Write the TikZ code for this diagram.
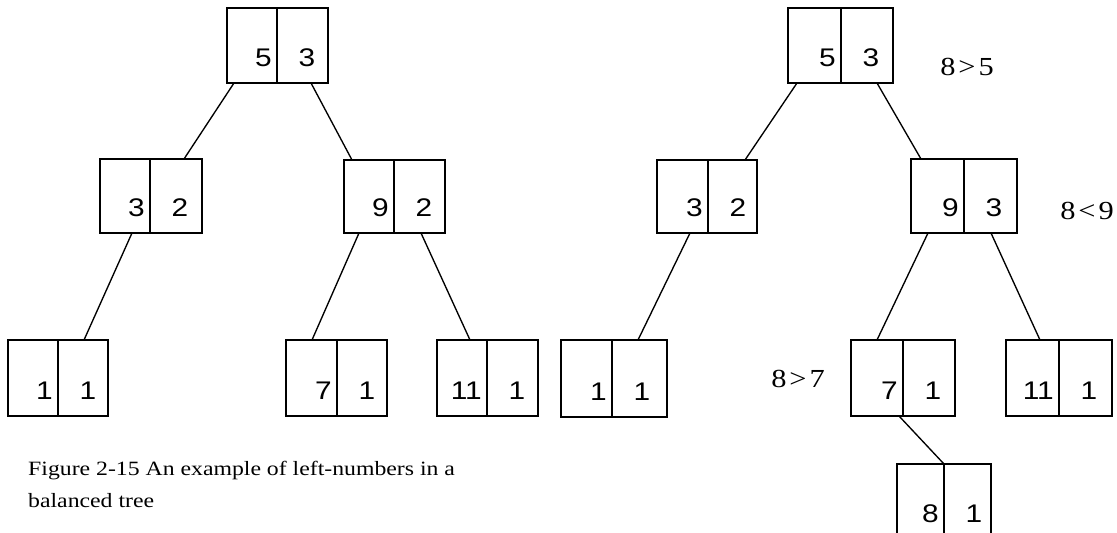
\documentclass[tikz,border=0pt]{standalone}
\usepackage{fontspec}
\setmainfont{Liberation Serif}
\newfontfamily\numfont{Liberation Sans}
\usetikzlibrary{fit}
\newcommand\sx[1]{\scalebox{1.17}[1]{#1}}
% #1 name, #2 left, #3 top, #4 right, #5 bottom, #6 divider x, #7 left number, #8 right number
\newcommand\tbox[8]{%
  \node[cellbox, fit={(#2,#3) (#4,#5)}] (#1) {};
  \draw[edge] (#6,#3) -- (#6,#5);
  \node[num, anchor=base east] (#1-l) at (#6-5,#5-17) {\sx{#7}};
  \node[num, anchor=base] (#1-r) at (#6+30,#5-17) {\sx{#8}};
}
\begin{document}
\begin{tikzpicture}[x=1pt,y=-1pt,
  cellbox/.style={draw, line width=1.35pt, inner sep=0pt, outer sep=0pt},
  edge/.style={line width=1.35pt},
  num/.style={font=\numfont\fontsize{25.5}{27}\selectfont, inner sep=0pt},
  cmp/.style={font=\fontsize{26}{28}\selectfont, inner sep=0pt},
  captext/.style={font=\fontsize{20.3}{24}\selectfont, inner sep=0pt, anchor=base west}]
\useasboundingbox (0,0) rectangle (1117,533);
\clip (0,0) rectangle (1117,533);
% left tree
\tbox{A}{227}{8}{328}{83}{277}{5}{3}
\tbox{B}{100}{159}{202}{233}{150}{3}{2}
\tbox{C}{344}{160}{445}{233}{394}{9}{2}
\tbox{D}{8}{340}{108}{416}{58}{1}{1}
\tbox{E}{286}{340}{387}{416}{337}{7}{1}
\tbox{F}{437}{340}{538}{416}{487}{11}{1}
\draw[edge] ([xshift=7pt]A.south west) -- ([xshift=84pt]B.north west);
\draw[edge] ([xshift=84pt]A.south west) -- ([xshift=8pt]C.north west);
\draw[edge] ([xshift=32pt]B.south west) -- ([xshift=76pt]D.north west);
\draw[edge] ([xshift=15pt]C.south west) -- ([xshift=26pt]E.north west);
\draw[edge] ([xshift=77pt]C.south west) -- ([xshift=33pt]F.north west);
% right tree
\tbox{P}{788}{8}{893}{83}{841}{5}{3}
\tbox{Q}{657}{160}{757}{233}{708}{3}{2}
\tbox{R}{911}{159}{1017}{233}{964}{9}{3}
\tbox{S}{561}{340}{667}{417}{612}{1}{1}
\tbox{T}{851}{340}{955}{416}{903}{7}{1}
\tbox{U}{1006}{340}{1112}{416}{1059}{11}{1}
\tbox{V}{897}{464}{991}{539}{944}{8}{1}
\draw[edge] ([xshift=9pt]P.south west) -- ([xshift=88pt]Q.north west);
\draw[edge] ([xshift=89pt]P.south west) -- ([xshift=10pt]R.north west);
\draw[edge] ([xshift=33pt]Q.south west) -- ([xshift=77pt]S.north west);
\draw[edge] ([xshift=17pt]R.south west) -- ([xshift=26pt]T.north west);
\draw[edge] ([xshift=80pt]R.south west) -- ([xshift=34pt]U.north west);
\draw[edge] ([xshift=48pt]T.south west) -- ([xshift=47pt]V.north west);
% comparisons
\node[cmp] (c1) at (967,67) {\sx{8\kern2.5pt>\kern2.5pt5}};
\node[cmp] (c2) at (1087,211) {\sx{8\kern2.5pt<\kern2.5pt9}};
\node[cmp] (c3) at (798,379) {\sx{8\kern2.5pt>\kern2.5pt7}};
% caption
\node[captext] (cap1) at (28,475) {\sx{Figure 2-15 An example of left-numbers in a}};
\node[captext] (cap2) at (28,507) {\sx{balanced tree}};
\end{tikzpicture}
\end{document}
